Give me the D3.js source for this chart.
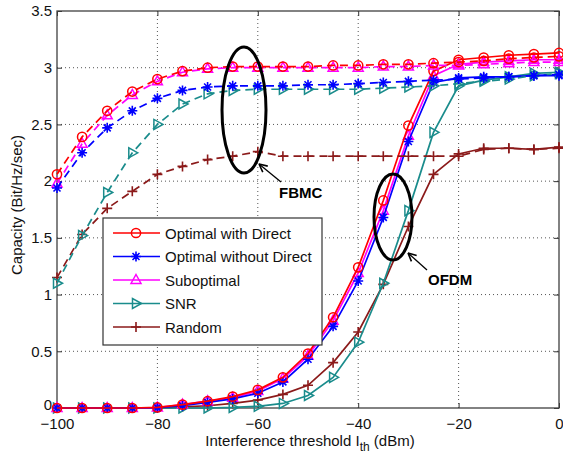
<!DOCTYPE html>
<html><head><meta charset="utf-8">
<script src="https://cdn.jsdelivr.net/npm/d3@7"></script>
<style>body{margin:0;background:#fff}svg{display:block;font-family:"Liberation Sans",Arial,sans-serif}</style>
</head><body><svg id="c" width="563" height="456"></svg>
<script>
const xValues = [-100,-95,-90,-85,-80,-75,-70,-65,-60,-55,-50,-45,-40,-35,-30,-25,-20,-15,-10,-5,0];
const xTicks = [-100,-80,-60,-40,-20,0];
const yTicks = [0,0.5,1,1.5,2,2.5,3,3.5];
const seriesNames = ["Optimal with Direct","Optimal without Direct","Suboptimal","SNR","Random"];
const seriesColors = ["#ff0000","#0000ff","#ff00ff","#1a8c8c","#8b1a1a"];
const seriesMarkers = ["circle","star","triUp","triRight","plus"];
// FBMC (dashed)
const fbmcOptDirect = [2.06,2.39,2.62,2.79,2.90,2.97,3.00,3.01,3.01,3.01,3.01,3.02,3.02,3.03,3.03,3.04,3.05,3.06,3.08,3.09,3.10];
const fbmcOptNoDirect = [1.94,2.25,2.47,2.62,2.73,2.80,2.83,2.84,2.84,2.84,2.85,2.85,2.86,2.87,2.88,2.89,2.90,2.91,2.92,2.93,2.94];
const fbmcSubopt = [1.98,2.33,2.58,2.76,2.88,2.96,2.99,3.00,3.00,3.00,3.00,3.00,3.00,3.01,3.01,3.02,3.02,3.03,3.04,3.05,3.05];
const fbmcSNR = [1.10,1.52,1.90,2.25,2.50,2.68,2.77,2.80,2.81,2.81,2.81,2.81,2.81,2.82,2.83,2.84,2.86,2.88,2.90,2.93,2.95];
const fbmcRandom = [1.15,1.53,1.76,1.91,2.06,2.13,2.19,2.22,2.26,2.22,2.22,2.22,2.22,2.22,2.22,2.22,2.22,2.28,2.29,2.28,2.29];
// OFDM (solid)
const ofdmOptDirect = [0,0,0,0,0.005,0.03,0.06,0.10,0.16,0.27,0.48,0.80,1.24,1.83,2.49,2.97,3.07,3.09,3.11,3.12,3.13];
const ofdmOptNoDirect = [0,0,0,0,0.003,0.02,0.05,0.08,0.13,0.23,0.43,0.72,1.12,1.68,2.35,2.87,2.91,2.92,2.92,2.93,2.93];
const ofdmSubopt = [0,0,0,0,0.004,0.03,0.06,0.09,0.15,0.26,0.46,0.77,1.19,1.74,2.40,2.93,3.03,3.05,3.06,3.07,3.07];
const ofdmSNR = [0,0,0,0,0,0,0,0.005,0.015,0.04,0.11,0.27,0.58,1.10,1.74,2.43,2.84,2.89,2.92,2.95,2.96];
const ofdmRandom = [0,0,0,0,0,0.01,0.02,0.04,0.07,0.12,0.20,0.40,0.67,1.09,1.60,2.06,2.24,2.29,2.29,2.28,2.30];

const fbmc = [fbmcOptDirect,fbmcOptNoDirect,fbmcSubopt,fbmcSNR,fbmcRandom];
const ofdm = [ofdmOptDirect,ofdmOptNoDirect,ofdmSubopt,ofdmSNR,ofdmRandom];

const svg = d3.select("#c");
const L=57,R=559,T=11,B=408;
const x = d3.scaleLinear().domain([-100,0]).range([L,R]);
const y = d3.scaleLinear().domain([0,3.5]).range([B,T]);
const fmt = d => (d<0? "\u2212"+Math.abs(d) : String(d));

// grid
const g = svg.append("g");
g.selectAll(".gx").data(xTicks.slice(1,-1)).join("line")
  .attr("x1",d=>x(d)).attr("x2",d=>x(d)).attr("y1",T).attr("y2",B)
  .attr("stroke","#555").attr("stroke-width",1).attr("stroke-dasharray","1,3");
g.selectAll(".gy").data(yTicks.slice(1,-1)).join("line")
  .attr("y1",d=>y(d)).attr("y2",d=>y(d)).attr("x1",L).attr("x2",R)
  .attr("stroke","#555").attr("stroke-width",1).attr("stroke-dasharray","1,3");

// axes
const ax = d3.axisBottom(x).tickValues(xTicks).tickFormat(fmt).tickSizeInner(-5).tickSizeOuter(0).tickPadding(10);
const ay = d3.axisLeft(y).tickValues(yTicks).tickFormat(d=>String(d)).tickSizeInner(-5).tickSizeOuter(0).tickPadding(5);
const gx = svg.append("g").attr("transform",`translate(0,${B})`).call(ax);
const gy = svg.append("g").attr("transform",`translate(${L},0)`).call(ay);
const gx2 = svg.append("g").attr("transform",`translate(0,${T})`).call(d3.axisTop(x).tickValues(xTicks).tickFormat("").tickSizeInner(-5).tickSizeOuter(0));
const gy2 = svg.append("g").attr("transform",`translate(${R},0)`).call(d3.axisRight(y).tickValues(yTicks).tickFormat("").tickSizeInner(-5).tickSizeOuter(0));
[gx,gy,gx2,gy2].forEach(a=>{
  a.select(".domain").remove();
  a.selectAll(".tick line").attr("stroke","#333");
  a.selectAll("text").attr("font-size",15).attr("fill","#111").attr("font-family","'Liberation Sans',Arial,sans-serif");
});
gy.selectAll(".tick").filter(d=>d===0).select("text").attr("dy","0.12em");
svg.append("rect").attr("x",L).attr("y",T).attr("width",R-L).attr("height",B-T)
  .attr("fill","none").attr("stroke","#404040").attr("stroke-width",1.3);

// markers
function marker(sel, type, color){
  if(type==="circle") sel.append("circle").attr("r",4.6).attr("fill","none").attr("stroke",color).attr("stroke-width",1.5);
  else if(type==="triUp") sel.append("path").attr("d","M0,-5.5L5,3.5L-5,3.5Z").attr("fill","none").attr("stroke",color).attr("stroke-width",1.5);
  else if(type==="triRight") sel.append("path").attr("d","M5.5,0L-3.5,-5L-3.5,5Z").attr("fill","none").attr("stroke",color).attr("stroke-width",1.5);
  else if(type==="plus") sel.append("path").attr("d","M-5,0H5M0,-5V5").attr("fill","none").attr("stroke",color).attr("stroke-width",1.6);
  else if(type==="star") sel.append("path").attr("d","M-5,0H5M0,-5V5M-3.5,-3.5L3.5,3.5M-3.5,3.5L3.5,-3.5").attr("fill","none").attr("stroke",color).attr("stroke-width",1.6);
}
const line = d3.line().x((d,i)=>x(xValues[i])).y(d=>y(d));
function drawSeries(vals, k, dashed){
  const c = seriesColors[k];
  svg.append("path").datum(vals).attr("d",line).attr("fill","none").attr("stroke",c)
    .attr("stroke-width",1.7).attr("stroke-dasharray",dashed?"8,5":null);
  vals.forEach((v,i)=>{
    const m = svg.append("g").attr("transform",`translate(${x(xValues[i])},${y(v)})`);
    marker(m, seriesMarkers[k], c);
  });
}
for(let k=4;k>=0;k--){ drawSeries(ofdm[k],k,false); }
for(let k=4;k>=0;k--){ drawSeries(fbmc[k],k,true); }

// ellipses and annotations
svg.append("ellipse").attr("cx",244).attr("cy",110).attr("rx",22).attr("ry",63)
  .attr("fill","none").attr("stroke","#000").attr("stroke-width",3);
svg.append("ellipse").attr("cx",393).attr("cy",217).attr("rx",19).attr("ry",43)
  .attr("fill","none").attr("stroke","#000").attr("stroke-width",3);
function arrow(x1,y1,x2,y2){
  svg.append("line").attr("x1",x1).attr("y1",y1).attr("x2",x2).attr("y2",y2).attr("stroke","#000").attr("stroke-width",1.3);
  const a=Math.atan2(y2-y1,x2-x1), s=9, w=0.45;
  svg.append("path").attr("d",`M${x2},${y2}L${x2-s*Math.cos(a-w)},${y2-s*Math.sin(a-w)}M${x2},${y2}L${x2-s*Math.cos(a+w)},${y2-s*Math.sin(a+w)}`)
    .attr("stroke","#000").attr("stroke-width",1.6).attr("fill","none");
}
arrow(281,182,259,164);
arrow(427,270,408,253);
svg.append("text").attr("x",279).attr("y",198).attr("font-size",15).attr("font-weight","bold").text("FBMC");
svg.append("text").attr("x",428).attr("y",285).attr("font-size",15).attr("font-weight","bold").text("OFDM");

// legend
const lg = svg.append("g");
lg.append("rect").attr("x",103).attr("y",218).attr("width",219).attr("height",127)
  .attr("fill","#fff").attr("stroke","#333").attr("stroke-width",1.2);
seriesNames.forEach((n,k)=>{
  const yy = 233 + k*23.5;
  lg.append("line").attr("x1",113).attr("x2",160).attr("y1",yy).attr("y2",yy).attr("stroke",seriesColors[k]).attr("stroke-width",1.7);
  marker(lg.append("g").attr("transform",`translate(136,${yy})`), seriesMarkers[k], seriesColors[k]);
  lg.append("text").attr("x",165).attr("y",yy+5.5).attr("font-size",15).attr("fill","#111").text(n);
});

// axis labels
const xl = svg.append("text").attr("x",310).attr("y",446).attr("text-anchor","middle").attr("font-size",15).attr("fill","#111");
xl.append("tspan").text("Interference threshold I");
xl.append("tspan").attr("font-size",12).attr("dy",5).text("th");
xl.append("tspan").attr("dy",-5).text(" (dBm)");
svg.append("text").attr("transform","translate(22,205) rotate(-90)").attr("text-anchor","middle")
  .attr("font-size",15).attr("fill","#111").text("Capacity (Bit/Hz/sec)");
</script></body></html>
